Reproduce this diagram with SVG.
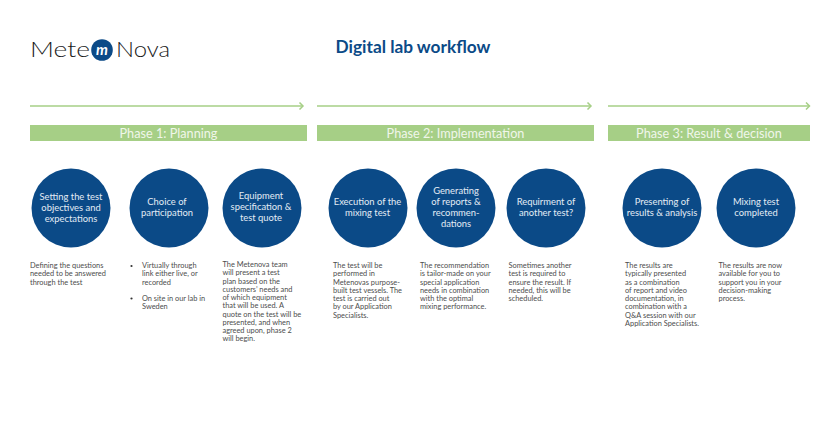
<svg xmlns="http://www.w3.org/2000/svg" width="826" height="431" viewBox="0 0 826 431">
<style>
text{font-family:"Lato","Liberation Sans",sans-serif}
.c{fill:#0b4a87}
.t{fill:#e3ecf5;font-size:9.4px;text-anchor:middle}
.b{fill:#4d4d4d;font-size:7.4px}
.p{fill:#f0f6ea;font-size:12.700px;text-anchor:middle}
.bar{fill:#a6cf86}
.a{fill:none;stroke:#a6cf86;stroke-width:1.5}
</style>
<defs><marker id="h" markerWidth="8" markerHeight="8" refX="6" refY="4" orient="auto" markerUnits="userSpaceOnUse"><path d="M2.5 0.5L6 4L2.500 7.5" fill="none" stroke="#a6cf86" stroke-width="1.5"/></marker></defs>
<rect width="826" height="431" fill="#fff"/>
<g id="logo">
<text x="30" y="57" font-size="22" fill="#1a1a1a" textLength="60" lengthAdjust="spacingAndGlyphs" style="font-weight:300">Mete</text>
<circle cx="102" cy="50" r="10.800" fill="#0b4a87"/>
<text x="102" y="54.500" font-size="15" fill="#fff" text-anchor="middle" font-style="italic" font-weight="700">m</text>
<text x="116" y="57" font-size="22" fill="#1a1a1a" textLength="54" lengthAdjust="spacingAndGlyphs" style="font-weight:300">Nova</text>
</g>
<text id="title" x="413" y="52.500" font-size="17.300" font-weight="700" fill="#0b4a87" text-anchor="middle">Digital lab workflow</text>
<g id="connectors">
<path class="a" d="M30 106H303" marker-end="url(#h)"/>
<path class="a" d="M317 106H591" marker-end="url(#h)"/>
<path class="a" d="M608 106H809.500" marker-end="url(#h)"/>
</g>
<g id="phase1"><rect class="bar" x="30" y="125" width="277" height="16"/><text class="p" x="168.500" y="137.500">Phase 1: Planning</text></g>
<g id="phase2"><rect class="bar" x="317" y="125" width="277" height="16"/><text class="p" x="455.500" y="137.500">Phase 2: Implementation</text></g>
<g id="phase3"><rect class="bar" x="608" y="125" width="202" height="16"/><text class="p" x="709" y="137.500">Phase 3: Result &amp; decision</text></g>
<g id="n1"><circle class="c" cx="71" cy="208" r="39.500"/><text class="t"><tspan x="71" y="200">Setting the test</tspan><tspan x="71" y="211">objectives and</tspan><tspan x="71" y="222">expectations</tspan></text>
<text class="b"><tspan x="30" y="268">Defining the questions</tspan><tspan x="30" y="276.300">needed to be answered</tspan><tspan x="30" y="284.600">through the test</tspan></text></g>
<g id="n2"><circle class="c" cx="169" cy="208" r="39.500"/><text class="t"><tspan x="167" y="205">Choice of</tspan><tspan x="167" y="216">participation</tspan></text>
<circle cx="131.500" cy="266" r="1.100" fill="#333"/><circle cx="131.500" cy="298.500" r="1.100" fill="#333"/>
<text class="b"><tspan x="142" y="268">Virtually through</tspan><tspan x="142" y="276.300">link either live, or</tspan><tspan x="142" y="284.600">recorded</tspan><tspan x="142" y="301">On site in our lab in</tspan><tspan x="142" y="309.300">Sweden</tspan></text></g>
<g id="n3"><circle class="c" cx="262" cy="208" r="39.500"/><text class="t"><tspan x="261" y="199">Equipment</tspan><tspan x="261" y="210">specification &amp;</tspan><tspan x="261" y="221">test quote</tspan></text>
<text class="b"><tspan x="222.500" y="267">The Metenova team</tspan><tspan x="222.500" y="275.300">will present a test</tspan><tspan x="222.500" y="283.500">plan based on the</tspan><tspan x="222.500" y="291.800">customers’ needs and</tspan><tspan x="222.500" y="300">of which equipment</tspan><tspan x="222.500" y="308.300">that will be used. A</tspan><tspan x="222.500" y="316.500">quote on the test will be</tspan><tspan x="222.500" y="324.800">presented, and when</tspan><tspan x="222.500" y="333">agreed upon, phase 2</tspan><tspan x="222.500" y="341.300">will begin.</tspan></text></g>
<g id="n4"><circle class="c" cx="368" cy="208" r="39.500"/><text class="t"><tspan x="367.500" y="205">Execution of the</tspan><tspan x="367.500" y="216">mixing test</tspan></text>
<text class="b"><tspan x="333" y="268">The test will be</tspan><tspan x="333" y="276.300">performed in</tspan><tspan x="333" y="284.600">Metenovas purpose-</tspan><tspan x="333" y="292.900">built test vessels. The</tspan><tspan x="333" y="301.100">test is carried out</tspan><tspan x="333" y="309.400">by our Application</tspan><tspan x="333" y="317.700">Specialists.</tspan></text></g>
<g id="n5"><circle class="c" cx="456" cy="208" r="39.500"/><text class="t"><tspan x="456" y="194">Generating</tspan><tspan x="456" y="205">of reports &amp;</tspan><tspan x="456" y="216">recommen-</tspan><tspan x="456" y="227">dations</tspan></text>
<text class="b"><tspan x="420" y="268">The recommendation</tspan><tspan x="420" y="276.300">is tailor-made on your</tspan><tspan x="420" y="284.600">special application</tspan><tspan x="420" y="292.900">needs in combination</tspan><tspan x="420" y="301.100">with the optimal</tspan><tspan x="420" y="309.400">mixing performance.</tspan></text></g>
<g id="n6"><circle class="c" cx="546" cy="208" r="39.500"/><text class="t"><tspan x="546" y="205">Requirment of</tspan><tspan x="546" y="216">another test?</tspan></text>
<text class="b"><tspan x="508.500" y="268">Sometimes another</tspan><tspan x="508.500" y="276.300">test is required to</tspan><tspan x="508.500" y="284.600">ensure the result. If</tspan><tspan x="508.500" y="292.900">needed, this will be</tspan><tspan x="508.500" y="301.100">scheduled.</tspan></text></g>
<g id="n7"><circle class="c" cx="662" cy="208" r="39.500"/><text class="t"><tspan x="662" y="205">Presenting of</tspan><tspan x="662" y="216">results &amp; analysis</tspan></text>
<text class="b"><tspan x="625" y="268">The results are</tspan><tspan x="625" y="276.300">typically presented</tspan><tspan x="625" y="284.600">as a combination</tspan><tspan x="625" y="292.900">of report and video</tspan><tspan x="625" y="301.100">documentation, in</tspan><tspan x="625" y="309.400">combination with a</tspan><tspan x="625" y="317.700">Q&amp;A session with our</tspan><tspan x="625" y="326">Application Specialists.</tspan></text></g>
<g id="n8"><circle class="c" cx="756" cy="208" r="39.500"/><text class="t"><tspan x="756" y="205">Mixing test</tspan><tspan x="756" y="216">completed</tspan></text>
<text class="b"><tspan x="718.500" y="268">The results are now</tspan><tspan x="718.500" y="276.300">available for you to</tspan><tspan x="718.500" y="284.600">support you in your</tspan><tspan x="718.500" y="292.900">decision-making</tspan><tspan x="718.500" y="301.100">process.</tspan></text></g>
</svg>
